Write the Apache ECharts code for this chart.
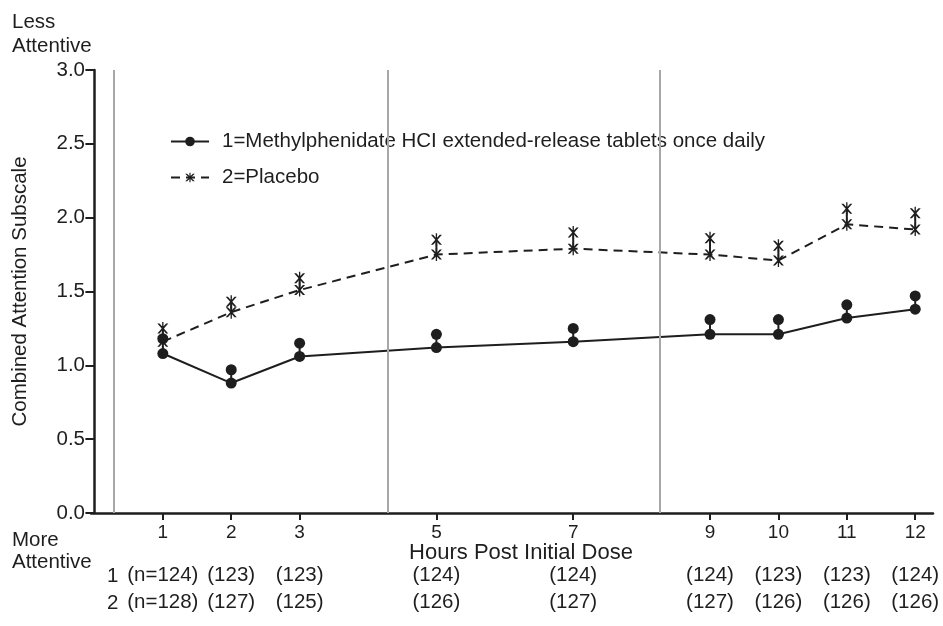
<!DOCTYPE html>
<html>
<head>
<meta charset="utf-8">
<script src="https://cdn.jsdelivr.net/npm/echarts@6/dist/echarts.min.js"></script>
<style>
html,body{margin:0;padding:0;background:#fff;}
#chart{width:943px;height:626px;}
</style>
</head>
<body>
<div id="chart"></div>
<script>
// ---- data ----
var hours = [1, 2, 3, 5, 7, 9, 10, 11, 12];
var methMean  = [1.08, 0.88, 1.06, 1.12, 1.16, 1.21, 1.21, 1.32, 1.38];
var methUpper = [1.18, 0.97, 1.15, 1.21, 1.25, 1.31, 1.31, 1.41, 1.47];
var placMean  = [1.16, 1.36, 1.51, 1.75, 1.79, 1.75, 1.71, 1.955, 1.92];
var placUpper = [1.25, 1.43, 1.59, 1.85, 1.90, 1.86, 1.81, 2.06, 2.03];
var nMeth = ['(n=124)', '(123)', '(123)', '(124)', '(124)', '(124)', '(123)', '(123)', '(124)'];
var nPlac = ['(n=128)', '(127)', '(125)', '(126)', '(127)', '(127)', '(126)', '(126)', '(126)'];
var periodLines = [0.28, 4.29, 8.27];
var seriesNames = ['1=Methylphenidate HCI extended-release tablets once daily', '2=Placebo'];

var FONT = "'Liberation Sans', Arial, sans-serif";
var INK = '#1e1e1e';
var starPath = 'path://M0,0 L2,0 L5,3.6 L8,0 L10,0 L6,5 L10,10 L8,10 L5,6.4 L2,10 L0,10 L4,5 Z M4.4,-1.5 L5.6,-1.5 L5.6,11.5 L4.4,11.5 Z';

function pairs(xs, ys){ return xs.map(function(x,i){ return [x, ys[i]]; }); }
function bars(xs, lo, hi){ return xs.map(function(x,i){ return [x, lo[i], hi[i]]; }); }

var chart = echarts.init(document.getElementById('chart'), null, {renderer:'canvas'});

var errRender = function(params, api){
  var x = api.value(0), lo = api.value(1), hi = api.value(2);
  var p1 = api.coord([x, lo]), p2 = api.coord([x, hi]);
  return {type:'line', shape:{x1:p1[0], y1:p1[1], x2:p2[0], y2:p2[1]}, style:{stroke:INK, lineWidth:2}};
};

var option = {
  backgroundColor:'#fff',
  animation:false,
  textStyle:{fontFamily:FONT},
  grid:{left:91, right:10, top:70, bottom:113, containLabel:false},
  legend:{
    data:seriesNames,
    orient:'vertical',
    left:170, top:131, padding:0,
    itemWidth:38, itemHeight:12, itemGap:15,
    textStyle:{fontFamily:FONT, fontSize:20.5, color:INK, padding:[0,0,0,8]}
  },
  xAxis:[{
    type:'value', min:-0.05, max:12.26,
    name:'Hours Post Initial Dose', nameLocation:'middle', nameGap:29, nameMoveOverlap:false,
    nameTextStyle:{fontFamily:FONT, fontSize:22, color:INK, verticalAlign:'top', padding:[0,0,0,18]},
    axisLine:{show:true, onZero:false, lineStyle:{color:INK, width:2.5}},
    axisTick:{show:true, length:7, lineStyle:{color:INK, width:2}, customValues:hours},
    axisLabel:{show:true, fontFamily:FONT, fontSize:19, color:INK, margin:10, customValues:hours},
    splitLine:{show:false}
  },{
    type:'value', min:-0.05, max:12.26, position:'bottom', offset:49,
    axisLine:{show:false}, axisTick:{show:false},
    axisLabel:{show:true, fontFamily:FONT, fontSize:20.5, color:INK, margin:0, lineHeight:27,
      verticalAlign:'top', customValues:hours,
      formatter:function(v){ var i = hours.indexOf(v); return i < 0 ? '' : nMeth[i] + '\n' + nPlac[i]; }},
    splitLine:{show:false}
  }],
  yAxis:{
    type:'value', min:0, max:3, interval:0.5,
    name:'Combined Attention Subscale', nameLocation:'middle', nameGap:60, nameMoveOverlap:false,
    nameTextStyle:{fontFamily:FONT, fontSize:20.5, color:INK},
    axisLine:{show:true, lineStyle:{color:INK, width:2.5}},
    axisTick:{show:true, length:9, lineStyle:{color:INK, width:2}},
    axisLabel:{fontFamily:FONT, fontSize:20.5, color:INK, margin:6, formatter:function(v){return v.toFixed(1);}},
    splitLine:{show:false}
  },
  graphic:[
    {type:'text', left:12, top:10, style:{text:'Less\nAttentive', font:'20.5px '+FONT, fill:INK, lineHeight:24}},
    {type:'text', left:12, top:529, style:{text:'More\nAttentive', font:'20.5px '+FONT, fill:INK, lineHeight:22}},
    {type:'text', left:107, top:563, style:{text:'1\n2', font:'20.5px '+FONT, fill:INK, lineHeight:27}}
  ],
  series:[
    {
      name:'periods', type:'line', data:[], silent:true,
      markLine:{silent:true, symbol:['none','none'], label:{show:false},
        lineStyle:{color:'#a8a8a8', width:2, type:'solid'},
        data:periodLines.map(function(v){return {xAxis:v};})}
    },
    {
      name:'errMeth', type:'custom', renderItem:errRender, data:bars(hours, methMean, methUpper), z:2, silent:true
    },
    {
      name:'errPlac', type:'custom', renderItem:errRender, data:bars(hours, placMean, placUpper), z:2, silent:true
    },
    {
      name:seriesNames[1], type:'line', data:pairs(hours, placMean),
      symbol:starPath, symbolSize:[11,13], showAllSymbol:true,
      lineStyle:{color:INK, width:2, type:[9,6]}, itemStyle:{color:INK, opacity:1}, z:3
    },
    {
      name:'placUp', type:'scatter', data:pairs(hours, placUpper),
      symbol:starPath, symbolSize:[11,13], itemStyle:{color:INK, opacity:1}, z:3
    },
    {
      name:seriesNames[0], type:'line', data:pairs(hours, methMean),
      symbol:'circle', symbolSize:11, showAllSymbol:true,
      lineStyle:{color:INK, width:2}, itemStyle:{color:INK, opacity:1}, z:4
    },
    {
      name:'methUp', type:'scatter', data:pairs(hours, methUpper),
      symbol:'circle', symbolSize:11, itemStyle:{color:INK, opacity:1}, z:4
    }
  ]
};
chart.setOption(option);
</script>
</body>
</html>
